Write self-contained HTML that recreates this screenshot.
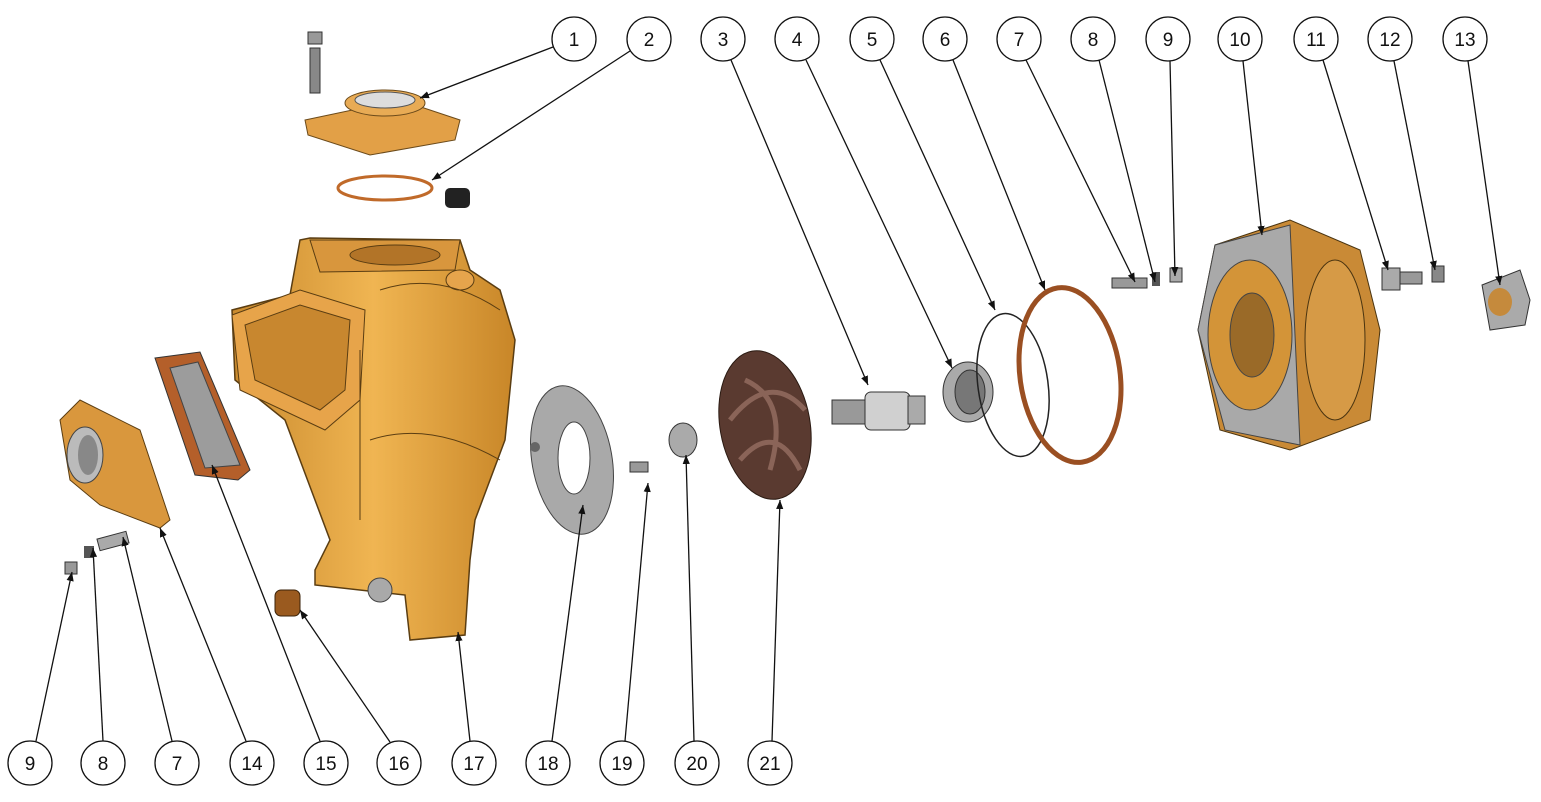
<!DOCTYPE html>
<html><head><meta charset="utf-8"><style>
html,body{margin:0;padding:0;background:#fff;}
svg{display:block;}
text{font-family:"Liberation Sans",sans-serif;font-size:19px;fill:#111;text-anchor:middle;}
</style></head><body>
<svg width="1541" height="802" viewBox="0 0 1541 802" xmlns="http://www.w3.org/2000/svg">
<defs>
<linearGradient id="org" x1="0" y1="0" x2="1" y2="0">
<stop offset="0" stop-color="#c98a2e"/><stop offset="0.5" stop-color="#f0b552"/><stop offset="1" stop-color="#c88628"/></linearGradient>
<marker id="ar" viewBox="0 0 10 10" refX="10" refY="5" markerWidth="9" markerHeight="9" markerUnits="userSpaceOnUse" orient="auto">
<path d="M0,1 L10,5 L0,9 Z" fill="#111"/></marker>
</defs>
<!-- plate 1 -->
<polygon points="305,120 400,100 460,120 455,140 370,155 308,135" fill="#e2a047" stroke="#6b4a1a"/>
<ellipse cx="385" cy="103" rx="40" ry="13" fill="#e8ab55" stroke="#6b4a1a"/>
<ellipse cx="385" cy="100" rx="30" ry="8" fill="#ddd" stroke="#555"/>
<rect x="310" y="48" width="10" height="45" fill="#888" stroke="#333"/>
<rect x="308" y="32" width="14" height="12" fill="#999" stroke="#333"/>
<!-- ring 2 -->
<ellipse cx="385" cy="188" rx="47" ry="12" fill="none" stroke="#c06a2a" stroke-width="3"/>
<rect x="445" y="188" width="25" height="20" rx="5" fill="#222"/>
<!-- body 17 -->
<path d="M300,240 L310,238 L460,240 L470,270 L500,290 L515,340 L505,440 L475,520 L470,560 L465,635 L410,640 L405,595 L315,585 L315,570 L330,540 L300,460 L285,420 L235,380 L232,310 L290,295 Z" fill="url(#org)" stroke="#5a3d12" stroke-width="1.5"/>
<polygon points="232,315 300,290 365,310 360,400 325,430 240,390" fill="#e7a44a" stroke="#5a3d12"/>
<polygon points="245,325 300,305 350,320 345,390 320,410 255,380" fill="#c8872f" stroke="#5a3d12"/>
<polygon points="310,240 460,240 455,270 320,272" fill="#d8963d" stroke="#5a3d12"/>
<ellipse cx="395" cy="255" rx="45" ry="10" fill="#b27428" stroke="#5a3d12"/>
<ellipse cx="460" cy="280" rx="14" ry="10" fill="#e6a44c" stroke="#5a3d12"/>
<path d="M380,290 Q440,270 500,310 M370,440 Q430,420 500,460 M360,350 L360,520" fill="none" stroke="#5a3d12" stroke-width="1"/>
<ellipse cx="380" cy="590" rx="12" ry="12" fill="#a9a9a9" stroke="#444"/>
<!-- 16 -->
<rect x="275" y="590" width="25" height="26" rx="6" fill="#9a5a1f" stroke="#3a2208"/>
<!-- flange 14 -->
<polygon points="60,420 80,400 140,430 170,520 160,528 100,505 70,480" fill="#d9973d" stroke="#5a3d12"/>
<ellipse cx="85" cy="455" rx="18" ry="28" fill="#bbb" stroke="#444"/>
<ellipse cx="88" cy="455" rx="10" ry="20" fill="#888"/>
<!-- gasket 15 -->
<polygon points="155,358 200,352 250,470 238,480 195,475" fill="#b45f2a" stroke="#333"/>
<polygon points="170,368 198,362 240,465 205,468" fill="#9c9c9c" stroke="#444"/>
<!-- small hardware bottom left -->
<rect x="65" y="562" width="12" height="12" fill="#999" stroke="#333"/>
<rect x="84" y="546" width="10" height="12" fill="#555"/>
<rect x="98" y="535" width="30" height="12" fill="#aaa" stroke="#333" transform="rotate(-15 113 541)"/>
<!-- disk 18 -->
<ellipse cx="572" cy="460" rx="40" ry="75" fill="#a9a9a9" stroke="#444" transform="rotate(-10 572 460)"/>
<ellipse cx="574" cy="458" rx="16" ry="36" fill="#fff" stroke="#444"/>
<circle cx="535" cy="447" r="5" fill="#666"/>
<!-- 19, 20 -->
<rect x="630" y="462" width="18" height="10" fill="#999" stroke="#333"/>
<ellipse cx="683" cy="440" rx="14" ry="17" fill="#aaa" stroke="#333"/>
<!-- impeller 21 -->
<ellipse cx="765" cy="425" rx="45" ry="75" fill="#5a3a30" stroke="#2a1a12" transform="rotate(-10 765 425)"/>
<path d="M730,420 Q770,370 805,410 M740,460 Q775,420 800,470 M745,380 Q790,400 770,470" fill="none" stroke="#8a6458" stroke-width="5"/>
<!-- shaft 3 -->
<rect x="832" y="400" width="35" height="24" fill="#999" stroke="#333"/>
<rect x="865" y="392" width="45" height="38" rx="6" fill="#d0d0d0" stroke="#333"/>
<rect x="908" y="396" width="17" height="28" fill="#aaa" stroke="#333"/>
<!-- seal 4 -->
<ellipse cx="968" cy="392" rx="25" ry="30" fill="#aaa" stroke="#333"/>
<ellipse cx="970" cy="392" rx="15" ry="22" fill="#777" stroke="#333"/>
<!-- oring 5 -->
<ellipse cx="1013" cy="385" rx="35" ry="72" fill="none" stroke="#222" stroke-width="1.5" transform="rotate(-8 1013 385)"/>
<!-- gasket 6 -->
<ellipse cx="1070" cy="375" rx="50" ry="88" fill="none" stroke="#9a4f22" stroke-width="5" transform="rotate(-8 1070 375)"/>
<!-- 7 8 9 top -->
<rect x="1112" y="278" width="35" height="10" fill="#999" stroke="#333"/>
<rect x="1152" y="272" width="8" height="14" fill="#555"/>
<rect x="1170" y="268" width="12" height="14" fill="#aaa" stroke="#333"/>
<!-- bracket 10 -->
<polygon points="1215,245 1290,220 1360,250 1380,330 1370,420 1290,450 1220,430 1198,330" fill="#c98a36" stroke="#4a3410"/>
<polygon points="1215,245 1290,225 1300,445 1225,430 1198,330" fill="#a9a9a9" stroke="#444"/>
<ellipse cx="1250" cy="335" rx="42" ry="75" fill="#d39438" stroke="#444"/>
<ellipse cx="1252" cy="335" rx="22" ry="42" fill="#9a6a28" stroke="#444"/>
<ellipse cx="1335" cy="340" rx="30" ry="80" fill="#d69a46" stroke="#4a3410"/>
<!-- 11, 12 -->
<rect x="1382" y="268" width="18" height="22" fill="#aaa" stroke="#333"/>
<rect x="1400" y="272" width="22" height="12" fill="#999" stroke="#333"/>
<rect x="1432" y="266" width="12" height="16" fill="#888" stroke="#333"/>
<!-- 13 -->
<polygon points="1482,285 1520,270 1530,300 1525,325 1490,330" fill="#aaa" stroke="#333"/>
<ellipse cx="1500" cy="302" rx="12" ry="14" fill="#c58a3c"/>
<!-- leader lines -->
<g stroke="#111" stroke-width="1.3" fill="none" marker-end="url(#ar)">
<line x1="553" y1="47" x2="420" y2="98"/>
<line x1="630" y1="51" x2="432" y2="180"/>
<line x1="731" y1="60" x2="868" y2="385"/>
<line x1="806" y1="60" x2="952" y2="368"/>
<line x1="880" y1="60" x2="995" y2="310"/>
<line x1="953" y1="60" x2="1045" y2="290"/>
<line x1="1026" y1="60" x2="1135" y2="282"/>
<line x1="1099" y1="60" x2="1155" y2="282"/>
<line x1="1170" y1="61" x2="1175" y2="276"/>
<line x1="1243" y1="61" x2="1262" y2="235"/>
<line x1="1323" y1="60" x2="1388" y2="270"/>
<line x1="1394" y1="61" x2="1435" y2="270"/>
<line x1="1468" y1="61" x2="1500" y2="285"/>
<line x1="36" y1="741" x2="72" y2="572"/>
<line x1="103" y1="741" x2="93" y2="548"/>
<line x1="172" y1="741" x2="123" y2="537"/>
<line x1="246" y1="741" x2="160" y2="528"/>
<line x1="320" y1="741" x2="212" y2="465"/>
<line x1="390" y1="742" x2="300" y2="610"/>
<line x1="470" y1="741" x2="458" y2="632"/>
<line x1="552" y1="741" x2="583" y2="505"/>
<line x1="625" y1="741" x2="648" y2="483"/>
<line x1="694" y1="741" x2="686" y2="455"/>
<line x1="772" y1="741" x2="780" y2="500"/>
</g>
<!-- balloons -->
<g fill="#fff" stroke="#111" stroke-width="1.3">
<circle cx="574" cy="39" r="22"/><circle cx="649" cy="39" r="22"/><circle cx="723" cy="39" r="22"/>
<circle cx="797" cy="39" r="22"/><circle cx="872" cy="39" r="22"/><circle cx="945" cy="39" r="22"/>
<circle cx="1019" cy="39" r="22"/><circle cx="1093" cy="39" r="22"/><circle cx="1168" cy="39" r="22"/>
<circle cx="1240" cy="39" r="22"/><circle cx="1316" cy="39" r="22"/><circle cx="1390" cy="39" r="22"/>
<circle cx="1465" cy="39" r="22"/>
<circle cx="30" cy="763" r="22"/><circle cx="103" cy="763" r="22"/><circle cx="177" cy="763" r="22"/>
<circle cx="252" cy="763" r="22"/><circle cx="326" cy="763" r="22"/><circle cx="399" cy="763" r="22"/>
<circle cx="474" cy="763" r="22"/><circle cx="548" cy="763" r="22"/><circle cx="622" cy="763" r="22"/>
<circle cx="697" cy="763" r="22"/><circle cx="770" cy="763" r="22"/>
</g>
<g>
<text x="574" y="46">1</text><text x="649" y="46">2</text><text x="723" y="46">3</text>
<text x="797" y="46">4</text><text x="872" y="46">5</text><text x="945" y="46">6</text>
<text x="1019" y="46">7</text><text x="1093" y="46">8</text><text x="1168" y="46">9</text>
<text x="1240" y="46">10</text><text x="1316" y="46">11</text><text x="1390" y="46">12</text>
<text x="1465" y="46">13</text>
<text x="30" y="770">9</text><text x="103" y="770">8</text><text x="177" y="770">7</text>
<text x="252" y="770">14</text><text x="326" y="770">15</text><text x="399" y="770">16</text>
<text x="474" y="770">17</text><text x="548" y="770">18</text><text x="622" y="770">19</text>
<text x="697" y="770">20</text><text x="770" y="770">21</text>
</g>
</svg>
</body></html>
